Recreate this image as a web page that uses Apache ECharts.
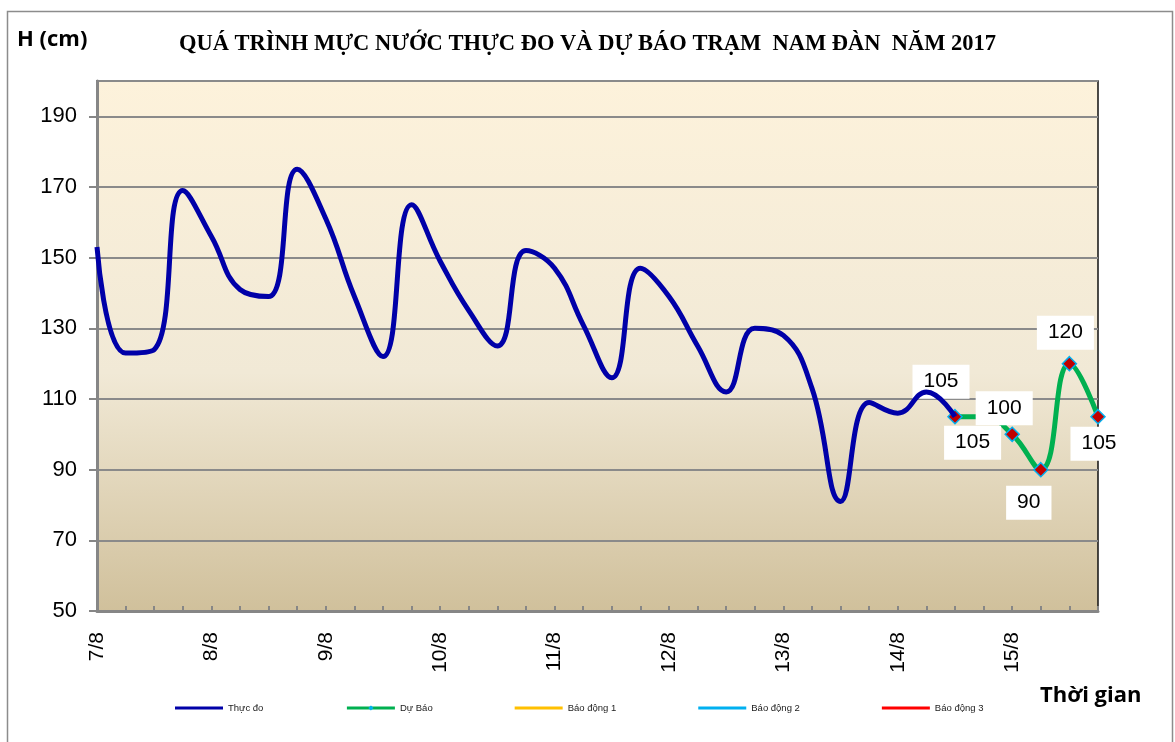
<!DOCTYPE html>
<html>
<head>
<meta charset="utf-8">
<script src="https://cdn.jsdelivr.net/npm/echarts@6/dist/echarts.min.js"></script>
<style>
  html, body { margin: 0; padding: 0; background: #fff; }
  #chart { width: 1175px; height: 742px; }
</style>
</head>
<body>
<div id="chart"></div>
<script>
const days = ['7/8', '8/8', '9/8', '10/8', '11/8', '12/8', '13/8', '14/8', '15/8']
const hours = ['00h', '06h', '12h', '18h']
const pointCount = 36

// muc nuoc thuc do, moi 6 gio
const thucDo = [153, 123, 124, 169, 156, 141, 139, 175, 161, 139, 122, 165, 149, 135, 125, 152,
  147, 131, 116, 147, 139, 125, 112, 130, 128, 113, 81, 109, 106, 112, 105]
// du bao, bat dau tu diem 14/8 12h
const duBaoStart = 30
const duBao = [105, 105, 100, 90, 120, 105]

const seriesNames = ['Thực đo', 'Dự Báo', 'Báo động 1', 'Báo động 2', 'Báo động 3']
const yTicks = { min: 50, max: 200, interval: 20 }

const categories = []
days.forEach((d) => hours.forEach((h) => categories.push(d + ' ' + h)))
categories.length = pointCount

const labelOffsets = [[-14, -35], [-11, 26], [-8, -26], [-12, 33], [-4, -31], [1, 27]]

const duBaoData = categories.map((c, i) => {
  const k = i - duBaoStart
  if (k < 0 || k >= duBao.length) return '-'
  return { value: duBao[k], label: { offset: labelOffsets[k] } }
})

const chart = echarts.init(document.getElementById('chart'))
chart.setOption({
  animation: false,
  title: {
    text: 'QUÁ TRÌNH MỰC NƯỚC THỰC ĐO VÀ DỰ BÁO TRẠM  NAM ĐÀN  NĂM 2017',
    left: 'center',
    top: 28,
    textStyle: { fontFamily: 'Liberation Serif', fontWeight: 'bold', fontSize: 22.5, color: '#000' },
  },
  graphic: [
    {
      type: 'rect', left: 5, top: 9, silent: true,
      shape: { width: 1165, height: 745 },
      style: { fill: 'none', stroke: '#8c8c8c', lineWidth: 1.5 },
    },
    {
      type: 'text', left: 17, top: 29,
      style: { text: 'H (cm)', font: 'bold 22px "Open Sans"', fill: '#000' },
    },
    {
      type: 'text', left: 1040, top: 685,
      style: { text: 'Thời gian', font: 'bold 22px "Open Sans"', fill: '#000' },
    },
  ],
  legend: {
    data: [
      { name: seriesNames[0], icon: 'rect' },
      { name: seriesNames[1] },
      { name: seriesNames[2], icon: 'rect' },
      { name: seriesNames[3], icon: 'rect' },
      { name: seriesNames[4], icon: 'rect' },
    ],
    left: 170,
    top: 698,
    itemWidth: 48,
    itemHeight: 3,
    itemGap: 82,
    textStyle: { fontFamily: 'Arial', fontSize: 9.5, color: '#222' },
    lineStyle: { width: 3 },
  },
  grid: {
    left: 97,
    right: 77,
    top: 81,
    bottom: 131,
    show: true,
    borderColor: '#111',
    borderWidth: 1.5,
    backgroundColor: new echarts.graphic.LinearGradient(0, 0, 0, 1, [
      { offset: 0, color: '#fdf2db' },
      { offset: 0.55, color: '#f1e9d6' },
      { offset: 1, color: '#d0c09b' },
    ]),
  },
  xAxis: {
    type: 'category',
    data: categories,
    boundaryGap: false,
    axisLine: { lineStyle: { color: '#868686', width: 3 } },
    axisTick: { interval: 0, inside: true, length: 5, lineStyle: { color: '#868686', width: 2 } },
    axisLabel: {
      interval: 3,
      rotate: 90,
      margin: 21,
      fontFamily: 'Arial',
      fontSize: 21,
      color: '#000',
      padding: [0, 0, 9, 0],
      formatter: (v) => v.split(' ')[0],
    },
  },
  yAxis: {
    type: 'value',
    min: yTicks.min,
    max: yTicks.max,
    interval: yTicks.interval,
    axisLine: { show: true, lineStyle: { color: '#868686', width: 3 } },
    axisTick: { show: true, length: 8, lineStyle: { color: '#868686', width: 2 } },
    axisLabel: { margin: 20, fontFamily: 'Arial', fontSize: 22, color: '#000', showMaxLabel: false },
    splitLine: { lineStyle: { color: '#8a8a8a', width: 2 } },
  },
  series: [
    {
      name: seriesNames[0],
      type: 'line',
      data: thucDo,
      smooth: 0.45,
      showSymbol: false,
      symbol: 'none',
      color: '#0000a8',
      lineStyle: { color: '#0000a8', width: 5 },
      z: 3,
    },
    {
      name: seriesNames[1],
      type: 'line',
      data: duBaoData,
      smooth: 0.45,
      symbol: 'diamond',
      symbolSize: 14,
      color: '#00b0f0',
      itemStyle: { color: '#c00000', borderColor: '#00b0f0', borderWidth: 1.5 },
      lineStyle: { color: '#00b050', width: 5 },
      label: {
        show: true,
        position: 'inside',
        fontFamily: 'Arial',
        fontSize: 21,
        color: '#000',
        backgroundColor: '#fff',
        padding: [7, 11, 6, 11],
      },
      z: 2,
    },
    { name: seriesNames[2], type: 'line', data: [], symbol: 'none', color: '#ffc000', lineStyle: { color: '#ffc000' } },
    { name: seriesNames[3], type: 'line', data: [], symbol: 'none', color: '#00b0f0', lineStyle: { color: '#00b0f0' } },
    { name: seriesNames[4], type: 'line', data: [], symbol: 'none', color: '#ff0000', lineStyle: { color: '#ff0000' } },
  ],
})
</script>
</body>
</html>
